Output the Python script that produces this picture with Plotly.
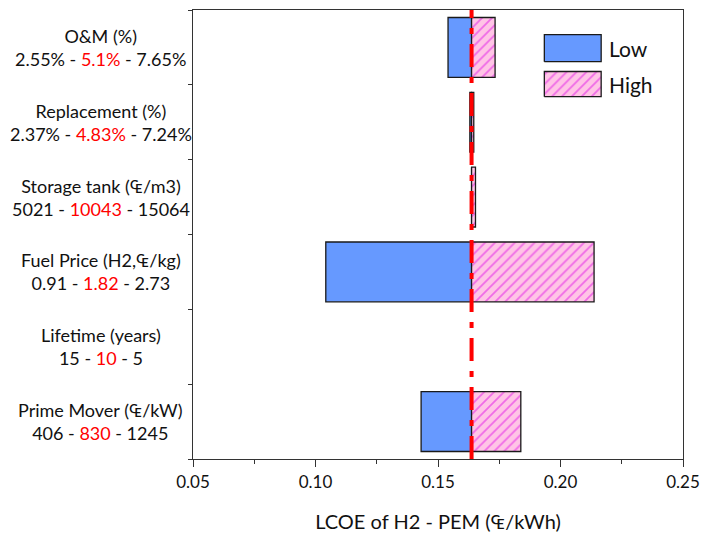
import numpy as np
import plotly.graph_objects as go

# ---- data ----
categories = ["O&M", "Replacement", "Storage tank", "Fuel Price", "Lifetime", "Prime Mover"]
label_title = ["O&M (%)", "Replacement (%)", "Storage tank (₠/m3)", "Fuel Price (H2,₠/kg)",
               "Lifetime (years)", "Prime Mover (₠/kW)"]
label_low = ["2.55%", "2.37%", "5021", "0.91", "15", "406"]
label_base = ["5.1%", "4.83%", "10043", "1.82", "10", "830"]
label_high = ["7.65%", "7.24%", "15064", "2.73", "5", "1245"]
base_value = 0.1637
low_values = [0.1541, 0.1630, 0.1637, 0.1042, None, 0.1431]
high_values = [0.1733, 0.1646, 0.1653, 0.2137, None, 0.1838]

FONT = "Lato"
BLUE = "#6699FF"
PINK = "#FFC4E6"
MAG = "#E010E8"

low = np.array([np.nan if v is None else v for v in low_values])
high = np.array([np.nan if v is None else v for v in high_values])

fig = go.Figure()
fig.add_trace(go.Bar(
    y=categories, x=base_value - low, base=low, orientation="h",
    marker=dict(color=BLUE, line=dict(color="#1a1a1a", width=1.3)),
    width=0.8, name="Low", showlegend=False))
fig.add_trace(go.Bar(
    y=categories, x=high - base_value, base=[base_value] * len(categories), orientation="h",
    marker=dict(color=PINK, line=dict(color="#1a1a1a", width=1.3),
                pattern=dict(shape="/", fgcolor=MAG, bgcolor=PINK, size=7, solidity=0.25)),
    width=0.8, name="High", showlegend=False))

# base-case reference line
fig.add_shape(type="line", xref="x", yref="paper", x0=base_value, x1=base_value, y0=0, y1=1,
              line=dict(color="#FF0000", width=4, dash="23px,10px,6px,10px"), layer="above")

# two-line category labels
for c, t, a, b, h in zip(categories, label_title, label_low, label_base, label_high):
    fig.add_annotation(
        x=-0.188, xref="paper", y=c, yref="y", xanchor="center", yanchor="middle",
        align="center", showarrow=False,
        text=f"{t}<br>{a} - <span style='color:#FF0000'>{b}</span> - {h}",
        font=dict(family=FONT, size=18, color="#111111"))

# legend (drawn on an overlay axis so the swatches can be large)
legend_items = [("Low", BLUE, None), ("High", PINK, MAG)]
sw_x = [0.717, 0.833]
sw_y = [[0.885, 0.945], [0.807, 0.863]]
for (name, col, pat), (y0, y1) in zip(legend_items, sw_y):
    kw = {}
    if pat:
        kw["fillpattern"] = dict(shape="/", fgcolor=pat, bgcolor=col, size=7, solidity=0.25)
    fig.add_trace(go.Scatter(
        x=[sw_x[0], sw_x[1], sw_x[1], sw_x[0], sw_x[0]], y=[y0, y0, y1, y1, y0],
        xaxis="x2", yaxis="y2", mode="lines", fill="toself", fillcolor=col,
        line=dict(color="#1a1a1a", width=1.3), hoverinfo="skip", showlegend=False, **kw))
    fig.add_annotation(x=sw_x[1] + 0.012, y=(y0 + y1) / 2, xref="x2", yref="y2",
                       xanchor="left", yanchor="middle", showarrow=False, text=name,
                       font=dict(family=FONT, size=21, color="#111111"))

fig.update_layout(
    width=701, height=533,
    margin=dict(l=193, r=18, t=10, b=74, autoexpand=False),
    plot_bgcolor="white", paper_bgcolor="white",
    barmode="overlay", showlegend=False,
    font=dict(family=FONT, size=17, color="#111111"),
    xaxis=dict(range=[0.05, 0.25], dtick=0.05, tick0=0.05, tickformat=".2f",
               showgrid=False, zeroline=False, showline=True, linecolor="#333333", linewidth=1.3,
               mirror=True, ticks="outside", ticklen=7, tickcolor="#333333", tickwidth=1.3,
               minor=dict(dtick=0.025, ticks="outside", ticklen=4, tickcolor="#333333", tickwidth=1.2),
               tickfont=dict(family=FONT, size=17, color="#111111"), automargin=False,
               title=dict(text="LCOE of H2 - PEM (₠/kWh)", font=dict(family=FONT, size=20, color="#111111"),
                          standoff=24)),
    yaxis=dict(type="category", categoryorder="array", categoryarray=categories[::-1],
               range=[-0.5, 5.5], tickson="boundaries", showticklabels=False, automargin=False,
               showgrid=False, zeroline=False, showline=True, linecolor="#333333", linewidth=1.3,
               mirror=True, ticks="outside", ticklen=4, tickcolor="#333333", tickwidth=1.3),
    xaxis2=dict(domain=[0, 1], range=[0, 1], overlaying="x", visible=False, fixedrange=True),
    yaxis2=dict(domain=[0, 1], range=[0, 1], overlaying="y", visible=False, fixedrange=True),
)

fig.write_html("out.html")
